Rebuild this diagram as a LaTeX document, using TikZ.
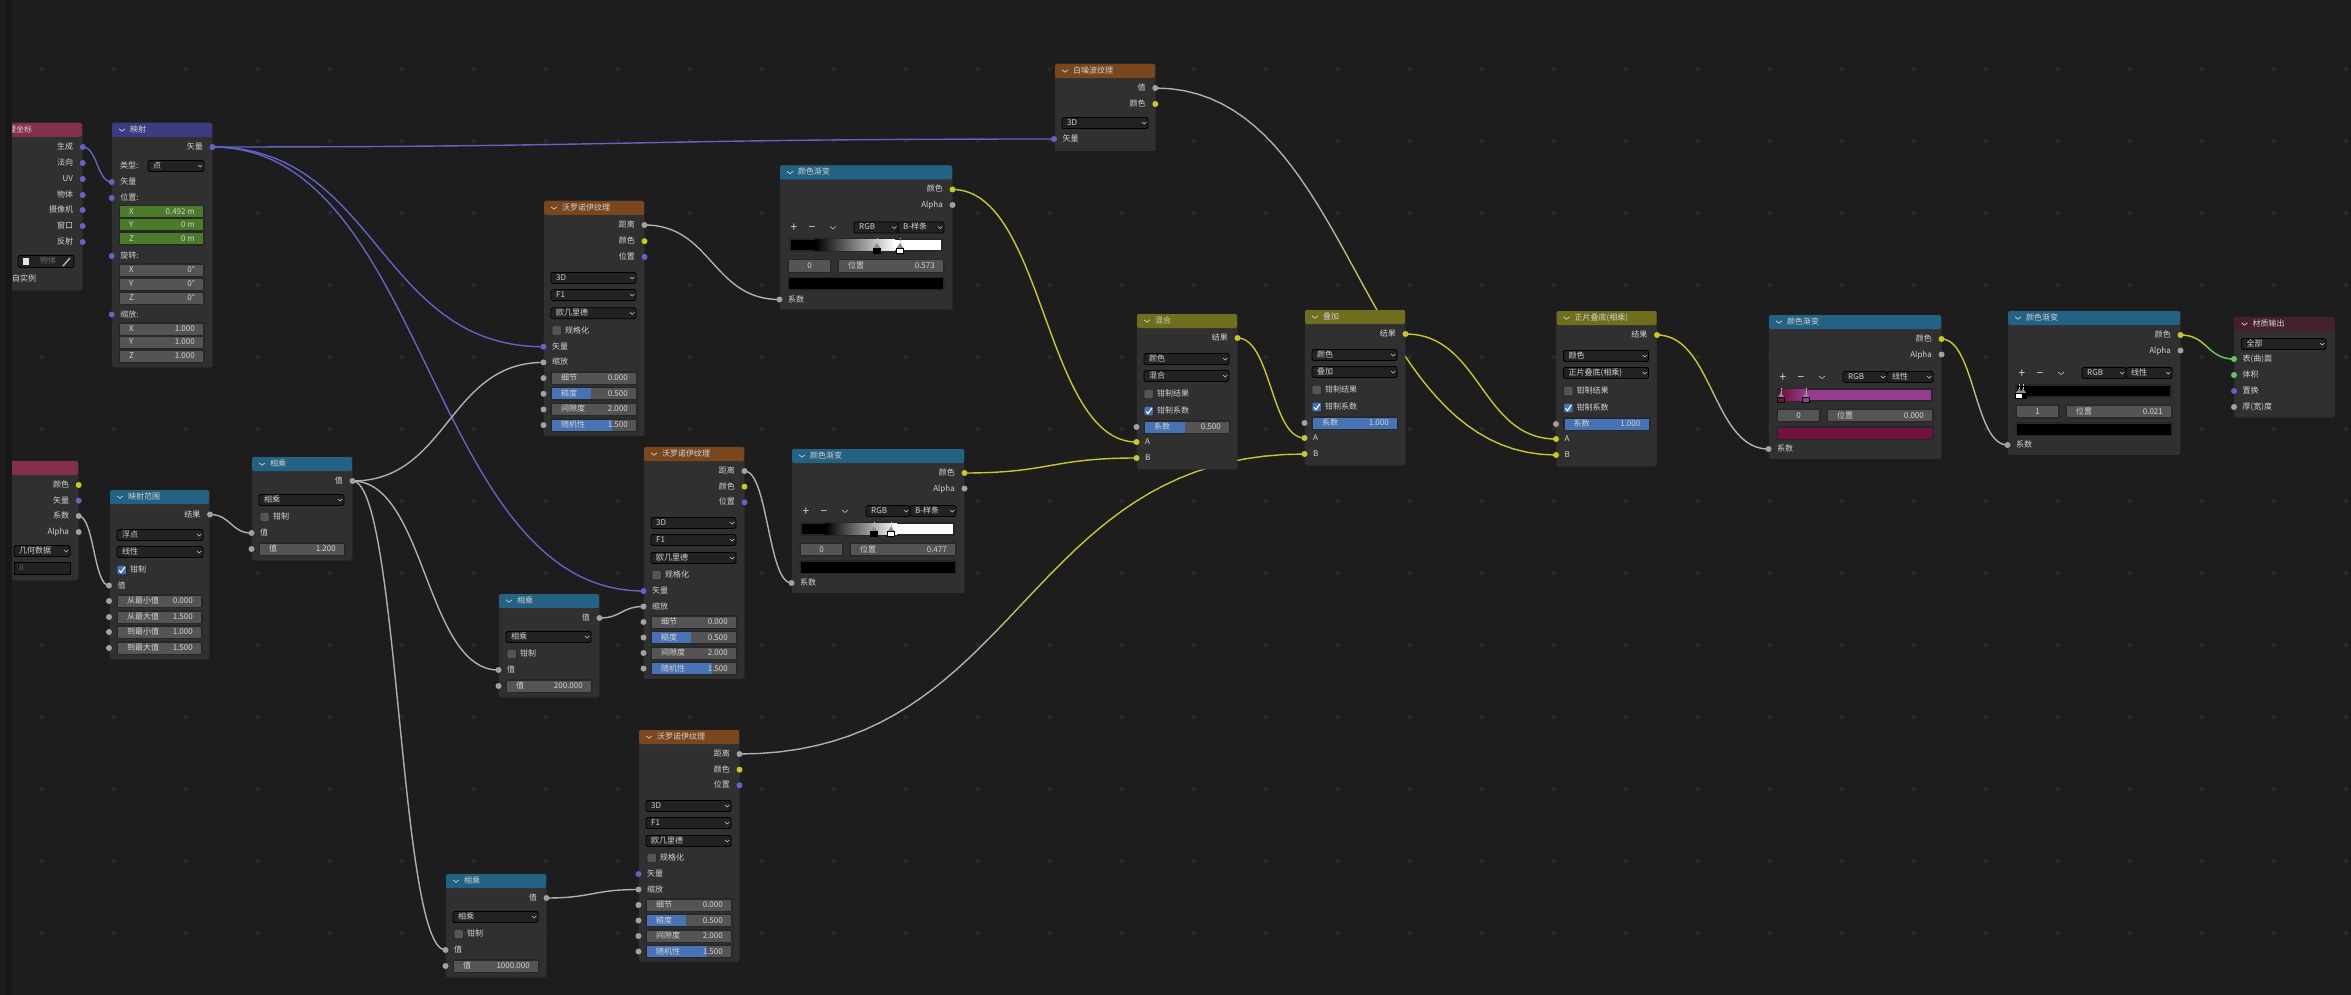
\documentclass[tikz,border=0pt]{standalone}
\usepackage{fontspec}
\setmainfont{Noto Sans CJK SC}
\usetikzlibrary{calc}
\definecolor{bgc}{HTML}{1D1D1D}
\definecolor{stripc}{HTML}{181818}
\definecolor{dotc}{HTML}{292929}
\definecolor{bodyc}{HTML}{303030}
\definecolor{rimc}{HTML}{272727}
\definecolor{fldc}{HTML}{545454}
\definecolor{ddc}{HTML}{222222}
\definecolor{txtc}{HTML}{D2D2D2}
\definecolor{dimc}{HTML}{6E6E6E}
\definecolor{ctex}{HTML}{79461D}
\definecolor{cconv}{HTML}{246283}
\definecolor{cmix}{HTML}{6E6E1D}
\definecolor{cvecn}{HTML}{3C3C83}
\definecolor{cinp}{HTML}{83314A}
\definecolor{cout}{HTML}{43202A}
\definecolor{cvec}{HTML}{6363C7}
\definecolor{ccol}{HTML}{C7C729}
\definecolor{cval}{HTML}{A1A1A1}
\definecolor{cwire}{HTML}{B0B0B0}
\definecolor{cshd}{HTML}{63C763}
\definecolor{cblue}{HTML}{4772B3}
\definecolor{cgreen}{HTML}{4A7A2A}
\pgfdeclarelayer{wires}
\pgfsetlayers{wires,main}
\tikzset{
    %Define style for node bodies
    nodebody/.style={
           rectangle,
           rounded corners=1.5pt,
           fill=bodyc,
           draw=black!80,
           line width=.5pt,
           inner sep=0,
           outer sep=0},
    %Define style for sockets and texts
    sock/.style={
           circle,
           fill=#1,
           inner sep=0,
           minimum size=6pt},
    lbl/.style={
           font=\fontsize{8}{9}\selectfont,
           text=txtc,
           inner sep=0,
           text height=6pt,
           text depth=1pt},
    chev/.style={draw=txtc, line width=.7pt},
    % Define wire styles
    wire/.style={
           to path={let \p1=(\tikztostart),\p2=(\tikztotarget),\n1={0.5*abs(\x2-\x1)} in
           .. controls (\x1+\n1,\y1) and (\x2-\n1,\y2) .. (\tikztotarget) \tikztonodes}},
    wl/.style={line width=1.4pt, line cap=round},
    vecw/.style={wl,draw=cvec,wire},
    valw/.style={wl,draw=cwire,wire},
    colw/.style={wl,draw=ccol,wire}
}
\newcounter{tid}
\newcommand{\txtl}[3]{\stepcounter{tid}\node[lbl,anchor=west] (t\thetid) at (#1,#2) {#3};}
\newcommand{\txtr}[3]{\stepcounter{tid}\node[lbl,anchor=east] (t\thetid) at (#1,#2) {#3};}
\newcommand{\txtm}[3]{\stepcounter{tid}\node[lbl] (t\thetid) at (#1,#2) {#3};}
\newcommand{\txtb}[3]{\stepcounter{tid}\node[lbl,font=\fontsize{12}{12}\selectfont,text height=8pt,text depth=0pt] (t\thetid) at (#1,#2) {#3};}
\newcommand{\sockr}[5]{\node[sock=#4] (#1) at (#2,#3) {}; \txtr{#2-9.5}{#3}{#5}}
\newcommand{\sockl}[5]{\node[sock=#4] (#1) at (#2,#3) {}; \txtl{#2+8.5}{#3}{#5}}
\newcommand{\blbody}[6]{%
  \node[nodebody,minimum width={(#3)-(#2)},minimum height={(#5)-(#4)},anchor=north west] (#1) at (#2,#4) {};
  \fill[#6,rounded corners=1.5pt] (#2,#4+14) |- (#3,#4) -- (#3,#4+14) -- cycle;}
\newcommand{\blnode}[7]{%
  \blbody{#1}{#2}{#3}{#4}{#5}{#6}
  \draw[chev] (#2+7,#4+5.8) -- (#2+10,#4+8.2) -- (#2+13,#4+5.8);
  \txtl{#2+18}{#4+7}{#7}}
\newcommand{\fldbg}[3]{%
  \fill[rimc,rounded corners=1.5pt] (#1-1.5,#3-6.8) rectangle (#2+1.5,#3+6.8);
  \fill[fldc] (#1,#3-5.5) rectangle (#2,#3+5.5);}
% field: x1, x2, y, colour, fraction, label, value
\newcommand{\fld}[7]{%
  \fldbg{#1}{#2}{#3}
  \fill[#4] (#1,#3-5.5) rectangle ({#1+#5*((#2)-(#1))},#3+5.5);
  \txtl{#1+9}{#3}{#6}
  \txtr{#2-8}{#3}{#7}}
\newcommand{\ddbox}[4]{%
  \fill[ddc,rounded corners=1.5pt,draw=rimc!130!white,line width=.8pt] (#1,#3-5.5) rectangle (#2,#3+5.5);
  \txtl{#1+5}{#3}{#4}
  \draw[chev,line width=.5pt] (#2-6,#3-1) -- (#2-3.8,#3+1) -- (#2-1.6,#3-1);}
\newcommand{\chkoff}[3]{%
  \fill[fldc,rounded corners=1pt,draw=rimc,line width=.8pt] (#1,#2-4.8) rectangle (#1+9.5,#2+4.8);
  \txtl{#1+13}{#2}{#3}}
\newcommand{\chkon}[3]{%
  \fill[cblue,rounded corners=1pt,draw=rimc,line width=.8pt] (#1,#2-4.8) rectangle (#1+9.5,#2+4.8);
  \draw[white,line width=1.1pt] (#1+2,#2+.3) -- (#1+4,#2+2.6) -- (#1+7.8,#2-3);
  \txtl{#1+13}{#2}{#3}}
\newcommand{\voronoi}[4]{%
  \blnode{#1}{#2}{#2+100}{#3}{#3+231.5*#4}{ctex}{沃罗诺伊纹理}
  \sockr{#1-d}{#2+100.5}{#3+24}{cval}{距离}
  \sockr{#1-c}{#2+100.5}{#3+39.7*#4}{ccol}{颜色}
  \sockr{#1-p}{#2+100.5}{#3+55.3*#4}{cvec}{位置}
  \ddbox{#2+7}{#2+92}{#3+76*#4}{3D}
  \ddbox{#2+7}{#2+92}{#3+93*#4}{F1}
  \ddbox{#2+7}{#2+92}{#3+111*#4}{欧几里德}
  \chkoff{#2+8}{#3+128*#4}{规格化}
  \sockl{#1-v}{#2-.5}{#3+144*#4}{cvec}{矢量}
  \sockl{#1-s}{#2-.5}{#3+159.5*#4}{cval}{缩放}
  \node[sock=cval] (#1-s1) at (#2-.5,#3+175*#4) {};
  \node[sock=cval] (#1-s2) at (#2-.5,#3+190.5*#4) {};
  \node[sock=cval] (#1-s3) at (#2-.5,#3+206*#4) {};
  \node[sock=cval] (#1-s4) at (#2-.5,#3+221.5*#4) {};
  \fld{#2+8}{#2+92}{#3+175*#4}{cblue}{0}{细节}{0.000}
  \fld{#2+8}{#2+92}{#3+190.5*#4}{cblue}{.46}{糙度}{0.500}
  \fld{#2+8}{#2+92}{#3+206*#4}{cblue}{0}{间隙度}{2.000}
  \fld{#2+8}{#2+92}{#3+221.5*#4}{cblue}{.71}{随机性}{1.500}}
\newcommand{\mulnode}[4]{%
  \blnode{#1}{#2}{#2+100}{#3}{#3+103}{cconv}{相乘}
  \sockr{#1-o}{#2+100.5}{#3+24}{cval}{值}
  \ddbox{#2+7}{#2+92}{#3+43}{相乘}
  \chkoff{#2+8}{#3+60}{钳制}
  \sockl{#1-a}{#2-.5}{#3+76}{cval}{值}
  \node[sock=cval] (#1-b) at (#2-.5,#3+92) {};
  \fld{#2+8}{#2+92}{#3+92}{cblue}{0}{值}{#4}}
% mix: name, x1, x2, top, title, blend, fraction, value
\newcommand{\mixnode}[8]{%
  \blnode{#1}{#2}{#3}{#4}{#4+155}{cmix}{#5}
  \sockr{#1-o}{#3+.5}{#4+24}{ccol}{结果}
  \ddbox{#2+7}{#3-8}{#4+45}{颜色}
  \ddbox{#2+7}{#3-8}{#4+62}{#6}
  \chkoff{#2+7}{#4+80}{钳制结果}
  \chkon{#2+7}{#4+97}{钳制系数}
  \node[sock=cval] (#1-f) at (#2-.5,#4+113) {};
  \fld{#2+8}{#3-8}{#4+113}{cblue}{#7}{系数}{#8}
  \sockl{#1-a}{#2-.5}{#4+128}{ccol}{A}
  \sockl{#1-b}{#2-.5}{#4+144}{ccol}{B}}
% ramp: name, x1, x2, top, interpolation, index, position, swatch
\newcommand{\rampnode}[8]{%
  \blnode{#1}{#2}{#3}{#4}{#4+143.5}{cconv}{颜色渐变}
  \sockr{#1-o}{#3+.5}{#4+24}{ccol}{颜色}
  \sockr{#1-a}{#3+.5}{#4+39.5}{cval}{Alpha}
  \txtb{#2+14}{#4+62}{+}
  \txtb{#2+32}{#4+62}{−}
  \draw[chev,line width=.5pt] (#2+50,#4+61) -- (#2+53,#4+63.5) -- (#2+56,#4+61);
  \ddbox{#3-98}{#3-54}{#4+62}{RGB}
  \ddbox{#3-54}{#3-8}{#4+62}{#5}
  \fldbg{#2+9}{#2+50}{#4+100.5}
  \txtm{#2+29.5}{#4+100.5}{#6}
  \fld{#2+59}{#3-9}{#4+100.5}{cblue}{0}{位置}{#7}
  \fill[rimc,rounded corners=1.5pt] (#2+7.5,#4+111) rectangle (#3-7.5,#4+125);
  \fill[#8] (#2+9,#4+112.5) rectangle (#3-9,#4+123.5);
  \sockl{#1-f}{#2-.5}{#4+134}{cval}{系数}}
% bar: x1, x2, top of node, stop, stop, colour, colour
\newcommand{\rampbar}[7]{%
  \fill[rimc] (#1-2,#3+73) rectangle (#2+2,#3+86.5);
  \fill[#6] (#1,#3+74.5) rectangle (#4,#3+85);
  \shade[left color=#6,right color=#7] (#4,#3+74.5) rectangle (#5,#3+85);
  \fill[#7] (#5,#3+74.5) rectangle (#2,#3+85);}
\newcommand{\rmark}[3]{%
  \draw[white!75!black,dash pattern=on .8pt off .8pt,line width=.8pt] (#1,#2+72.5) -- (#1,#2+78);
  \fill[white!55!black] (#1-3.5,#2+82.5) -- (#1,#2+77.5) -- (#1+3.5,#2+82.5) -- cycle;
  \fill[#3,draw=black,line width=.6pt] (#1-3.5,#2+82.5) rectangle (#1+3.5,#2+87.5);}
\newcommand{\gradwire}[4]{%
  \coordinate (gp) at (#1.center);
  \foreach \i in {1,...,40}{%
    \pgfmathsetmacro{\gt}{\i/40}
    \pgfmathsetmacro{\gm}{100*max(0,min(1,(\gt-.38)/.24))}
    \path (#1.center) to[wire] coordinate[pos=\gt] (gq) (#2.center);
    \draw[wl,draw=#4!\gm!#3] (gp) -- (gq);
    \coordinate (gp) at (gq);
  }}

\begin{document}
\begin{tikzpicture}[x=1pt,y=-1pt]
\useasboundingbox (0,0) rectangle (2351,995);
\begin{pgfonlayer}{wires}
\fill[bgc] (0,0) rectangle (2351,995);
\foreach \gx in {0,...,32}
  \foreach \gy in {0,...,12}
    \fill[dotc] (42+72*\gx,69+72*\gy) circle (2.3);
\end{pgfonlayer}

% texture coordinate
\blbody{tcoord}{6}{82}{123}{290}{cinp}
\txtl{8}{130.5}{理坐标}
\sockr{tc1}{82.7}{147}{cvec}{生成}
\sockr{tc2}{82.7}{163}{cvec}{法向}
\sockr{tc3}{82.7}{179}{cvec}{UV}
\sockr{tc4}{82.7}{195}{cvec}{物体}
\sockr{tc5}{82.7}{210}{cvec}{摄像机}
\sockr{tc6}{82.7}{226}{cvec}{窗口}
\sockr{tc7}{82.7}{242}{cvec}{反射}
\fill[ddc,rounded corners=1.5pt,draw=rimc!130!white,line width=.8pt] (18,255.5) rectangle (74,267.5);
\fill[white!90!black] (23,258) rectangle (29,265);
\node[lbl,text=dimc] (tcobj) at (48,261.5) {物体};
\draw[white!70!black,line width=1.5pt] (63,266) -- (70,258);
\txtl{12}{279}{自实例}

% mapping
\blnode{mapping}{112}{212}{123}{367}{cvecn}{映射}
\sockr{map-o}{212.5}{147}{cvec}{矢量}
\txtl{120}{166}{类型:}
\ddbox{148}{204}{166}{点}
\sockl{map-v}{111.7}{182}{cvec}{矢量}
\sockl{map-p}{111.7}{198}{cvec}{位置:}
\fld{120}{203}{212}{cgreen}{1}{X}{0.492 m}
\fld{120}{203}{225}{cgreen}{1}{Y}{0 m}
\fld{120}{203}{239}{cgreen}{1}{Z}{0 m}
\sockl{map-r}{111.7}{256}{cvec}{旋转:}
\fld{120}{203}{270}{cblue}{0}{X}{0°}
\fld{120}{203}{284}{cblue}{0}{Y}{0°}
\fld{120}{203}{298}{cblue}{0}{Z}{0°}
\sockl{map-s}{111.7}{314.5}{cvec}{缩放:}
\fld{120}{203}{329}{cblue}{0}{X}{1.000}
\fld{120}{203}{342}{cblue}{0}{Y}{1.000}
\fld{120}{203}{356}{cblue}{0}{Z}{1.000}

% second input, range
\blbody{gradtex}{6}{78}{461}{580}{cinp}
\sockr{gt1}{78.7}{485}{ccol}{颜色}
\sockr{gt2}{78.7}{500.7}{cvec}{矢量}
\sockr{gt3}{78.7}{516}{cval}{系数}
\sockr{gt4}{78.7}{532}{cval}{Alpha}
\ddbox{14}{70}{551}{几何数据}
\fill[ddc,draw=rimc!130!white,line width=.8pt] (14,562.5) rectangle (70,574);
\node[lbl,text=dimc,anchor=west] (gtfield) at (19,568) {ii};
\blnode{range}{110}{209}{490}{659}{cconv}{映射范围}
\sockr{rng-o}{210}{514.5}{cval}{结果}
\ddbox{117}{203}{535}{浮点}
\ddbox{117}{203}{552}{线性}
\chkon{117}{570}{钳制}
\sockl{rng-a}{109}{585.5}{cval}{值}
\foreach \ry/\rl/\rv in {601/从最小值/0.000,617/从最大值/1.500,632/到最小值/1.000,648/到最大值/1.500}{
  \node[sock=cval] (rng\ry) at (109,\ry) {};
  \fld{118}{201}{\ry}{cblue}{0}{\rl}{\rv}
}

% math and voronoi
\mulnode{mul1}{252}{457}{1.200}
\mulnode{mul2}{499}{594}{200.000}
\mulnode{mul3}{446}{874}{1000.000}
\voronoi{vor1}{544}{201}{1.012}
\voronoi{vor2}{644}{447}{1}
\voronoi{vor3}{639}{730}{1}

% white noise
\blnode{noise}{1055}{1155}{64}{151}{ctex}{白噪波纹理}
\sockr{noi-v}{1155.3}{88}{cval}{值}
\sockr{noi-c}{1155.3}{104}{ccol}{颜色}
\ddbox{1062}{1148}{123}{3D}
\sockl{noi-i}{1054}{139}{cvec}{矢量}

% colour ramps
\definecolor{rampa}{HTML}{72133F}
\definecolor{rampb}{HTML}{973B90}
\rampnode{ramp1}{780}{952}{165.5}{B-样条}{0}{0.573}{black}
\rampbar{791}{941}{165.5}{815}{895}{black}{white}
\rmark{877}{165.5}{black}
\rmark{900}{165.5}{white}
\rampnode{ramp2}{792}{964}{449}{B-样条}{0}{0.477}{black}
\rampbar{802}{953}{449}{825}{897}{black}{white}
\rmark{874}{449}{black}
\rmark{891}{449}{white}
\rampnode{ramp3}{1769}{1941}{315}{线性}{0}{0.000}{rampa}
\rampbar{1779}{1931}{315}{1781}{1806}{rampa}{rampb}
\rmark{1781}{315}{rampa}
\rmark{1806}{315}{rampb}
\rampnode{ramp4}{2008}{2180}{311}{线性}{1}{0.021}{black}
\rampbar{2017}{2170}{311}{2018}{2019}{black}{black}
\rmark{2023}{311}{black}
\rmark{2019}{311}{white}

% mix nodes
\mixnode{mix}{1137}{1237}{314}{混合}{混合}{.48}{0.500}
\mixnode{overlay}{1305}{1405}{310}{叠加}{叠加}{1}{1.000}
\mixnode{multiply}{1556.5}{1656.5}{311}{正片叠底(相乘)}{正片叠底(相乘)}{1}{1.000}

% output
\blnode{output}{2234.5}{2334.5}{317}{417}{cout}{材质输出}
\ddbox{2241.5}{2326}{344}{全部}
\sockl{out-s}{2234}{359}{cshd}{表(曲)面}
\sockl{out-v}{2234}{375}{cshd}{体积}
\sockl{out-d}{2234}{391}{cvec}{置换}
\sockl{out-t}{2234}{407}{cval}{厚(宽)度}

\fill[stripc] (5,0) rectangle (12,995);

\begin{pgfonlayer}{wires}
\draw[vecw] (tc1.center) to (map-v.center);
\draw[vecw] (map-o.center) to (noi-i.center);
\draw[vecw] (map-o.center) to (vor1-v.center);
\draw[vecw] (map-o.center) to (vor2-v.center);
\draw[valw] (gt3.center) to (rng-a.center);
\draw[valw] (rng-o.center) to (mul1-a.center);
\draw[valw] (mul1-o.center) to (vor1-s.center);
\draw[valw] (mul1-o.center) to (mul2-a.center);
\draw[valw] (mul1-o.center) to (mul3-a.center);
\draw[valw] (mul2-o.center) to (vor2-s.center);
\draw[valw] (mul3-o.center) to (vor3-s.center);
\draw[valw] (vor1-d.center) to (ramp1-f.center);
\draw[valw] (vor2-d.center) to (ramp2-f.center);
\draw[colw] (ramp1-o.center) to (mix-a.center);
\draw[colw] (ramp2-o.center) to (mix-b.center);
\draw[colw] (mix-o.center) to (overlay-a.center);
\draw[colw] (overlay-o.center) to (multiply-a.center);
\gradwire{vor3-d}{overlay-b}{cwire}{ccol}
\gradwire{noi-v}{multiply-b}{cwire}{ccol}
\gradwire{multiply-o}{ramp3-f}{ccol}{cwire}
\gradwire{ramp3-o}{ramp4-f}{ccol}{cwire}
\gradwire{ramp4-o}{out-s}{ccol}{cshd}
\end{pgfonlayer}
\end{tikzpicture}
\end{document}
